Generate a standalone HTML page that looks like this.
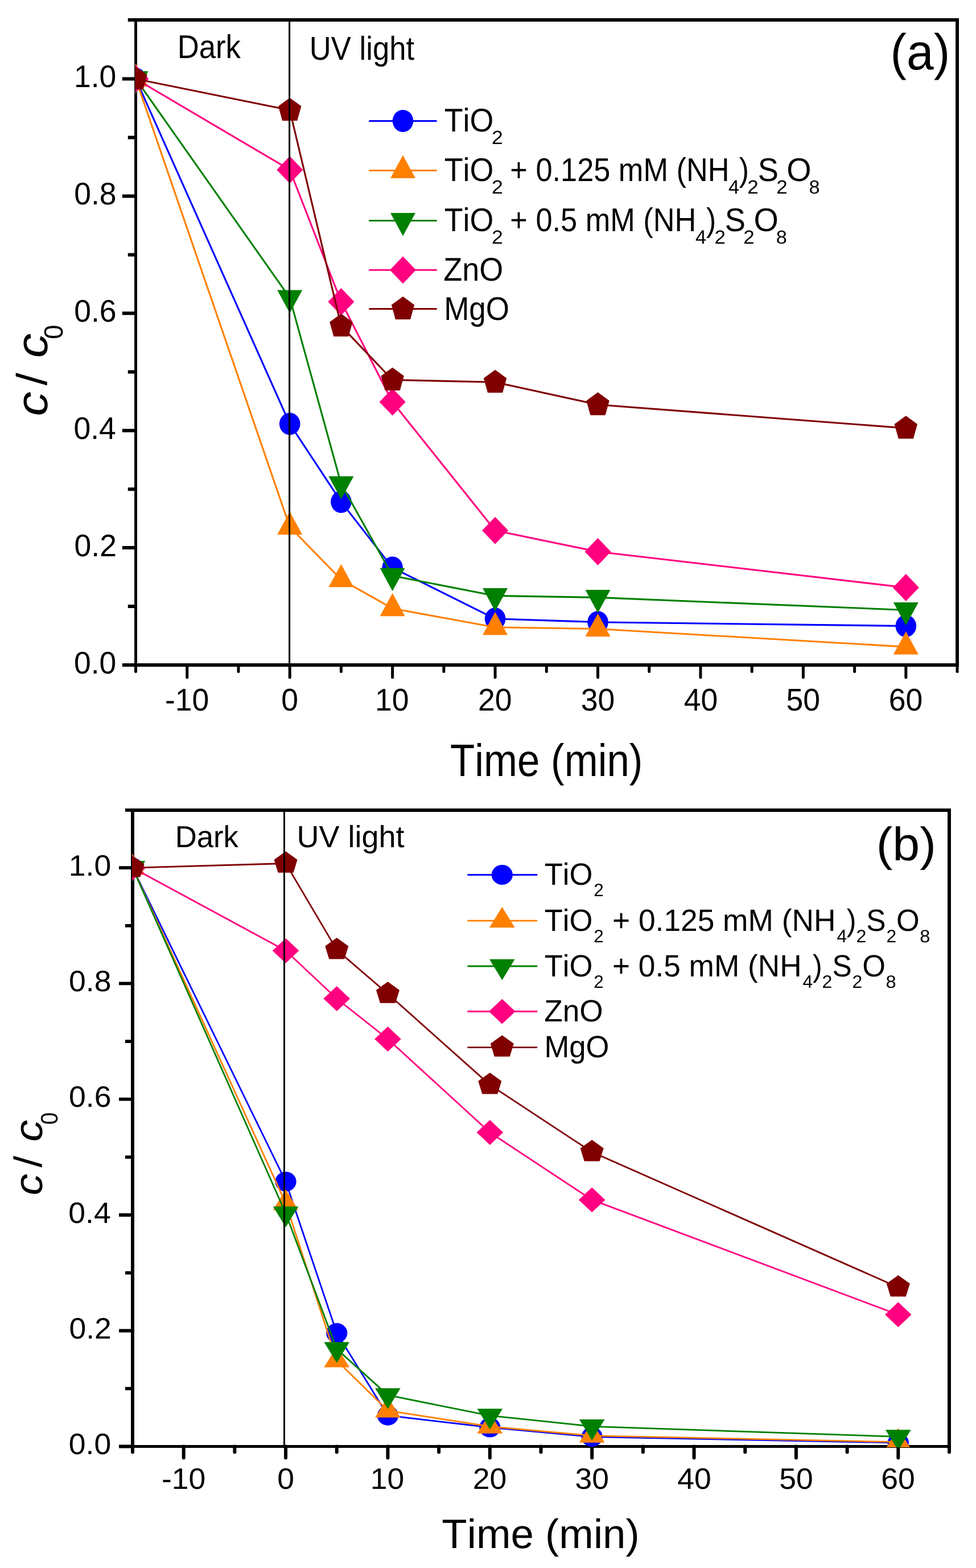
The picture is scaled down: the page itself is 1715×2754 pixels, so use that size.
<!DOCTYPE html>
<html><head><meta charset="utf-8"><title>c/c0 vs time</title><style>html,body{margin:0;padding:0;background:#fff;}svg{display:block;}</style></head><body>
<svg width="1715" height="2754" viewBox="0 0 1715 2754">
<rect width="100%" height="100%" fill="#fff"/>
<g font-family="&quot;Liberation Sans&quot;, Arial, sans-serif" fill="#000" style="font-kerning:none" text-rendering="geometricPrecision">
<g stroke="#000" fill="none">
<line x1="235.575" y1="35.05" x2="1685" y2="35.05" stroke-width="5.95"/>
<line x1="235.55" y1="1168" x2="1685" y2="1168" stroke-width="6.0"/>
<line x1="238.55" y1="32.075" x2="238.55" y2="1171" stroke-width="4.9"/>
<line x1="1682.05" y1="32.075" x2="1682.05" y2="1171" stroke-width="5.9"/>
<path d="M238.55,1168H214.9M238.55,1065.06H224.8M238.55,962.12H214.9M238.55,859.18H224.8M238.55,756.24H214.9M238.55,653.3H224.8M238.55,550.36H214.9M238.55,447.42H224.8M238.55,344.48H214.9M238.55,241.54H224.8M238.55,138.6H214.9M238.55,35.05H224.8" stroke-width="6.0" stroke-linecap="butt"/>
<path d="M238.55,1168V1179.5M328.769,1168V1189.7M418.988,1168V1179.5M509.206,1168V1189.7M599.425,1168V1179.5M689.644,1168V1189.7M779.862,1168V1179.5M870.081,1168V1189.7M960.3,1168V1179.5M1050.519,1168V1189.7M1140.737,1168V1179.5M1230.956,1168V1189.7M1321.175,1168V1179.5M1411.394,1168V1189.7M1501.612,1168V1179.5M1591.831,1168V1189.7M1682.05,1168V1179.5" stroke-width="5.0" stroke-linecap="round"/>
</g>
<clipPath id="ca"><rect x="237.8" y="35.05" width="1444.25" height="1132.95"/></clipPath>
<g clip-path="url(#ca)">
<polyline points="238.55,138.6 509.206,744.5 599.425,881.4 689.644,997.1 870.081,1086.8 1050.519,1092.7 1591.831,1099.5" fill="none" stroke="#0000FF" stroke-width="3.1" stroke-linejoin="round"/>
<ellipse cx="238.55" cy="138.6" rx="18.3" ry="19.5" fill="#0000FF"/>
<ellipse cx="509.206" cy="744.5" rx="18.3" ry="19.5" fill="#0000FF"/>
<ellipse cx="599.425" cy="881.4" rx="18.3" ry="19.5" fill="#0000FF"/>
<ellipse cx="689.644" cy="997.1" rx="18.3" ry="19.5" fill="#0000FF"/>
<ellipse cx="870.081" cy="1086.8" rx="18.3" ry="19.5" fill="#0000FF"/>
<ellipse cx="1050.519" cy="1092.7" rx="18.3" ry="19.5" fill="#0000FF"/>
<ellipse cx="1591.831" cy="1099.5" rx="18.3" ry="19.5" fill="#0000FF"/>
<polyline points="238.55,138.6 509.206,925.5 599.425,1017.8 689.644,1068.7 870.081,1101.8 1050.519,1104.5 1591.831,1136.1" fill="none" stroke="#FF8000" stroke-width="3.1" stroke-linejoin="round"/>
<polygon points="238.55,111.6 260.55,152.1 216.55,152.1" fill="#FF8000"/>
<polygon points="509.206,898.5 531.206,939 487.206,939" fill="#FF8000"/>
<polygon points="599.425,990.8 621.425,1031.3 577.425,1031.3" fill="#FF8000"/>
<polygon points="689.644,1041.7 711.644,1082.2 667.644,1082.2" fill="#FF8000"/>
<polygon points="870.081,1074.8 892.081,1115.3 848.081,1115.3" fill="#FF8000"/>
<polygon points="1050.519,1077.5 1072.519,1118 1028.519,1118" fill="#FF8000"/>
<polygon points="1591.831,1109.1 1613.831,1149.6 1569.831,1149.6" fill="#FF8000"/>
<polyline points="238.55,138.6 509.206,523.1 599.425,850.1 689.644,1011.3 870.081,1046.4 1050.519,1049.4 1591.831,1071.5" fill="none" stroke="#008000" stroke-width="3.1" stroke-linejoin="round"/>
<polygon points="216.55,125.1 260.55,125.1 238.55,165.6" fill="#008000"/>
<polygon points="487.206,509.6 531.206,509.6 509.206,550.1" fill="#008000"/>
<polygon points="577.425,836.6 621.425,836.6 599.425,877.1" fill="#008000"/>
<polygon points="667.644,997.8 711.644,997.8 689.644,1038.3" fill="#008000"/>
<polygon points="848.081,1032.9 892.081,1032.9 870.081,1073.4" fill="#008000"/>
<polygon points="1028.519,1035.9 1072.519,1035.9 1050.519,1076.4" fill="#008000"/>
<polygon points="1569.831,1058 1613.831,1058 1591.831,1098.5" fill="#008000"/>
<polyline points="238.55,138.6 509.206,298.2 599.425,530 689.644,706 870.081,931.8 1050.519,969 1591.831,1032" fill="none" stroke="#FF0080" stroke-width="3.1" stroke-linejoin="round"/>
<polygon points="238.55,114.6 261.55,138.6 238.55,162.6 215.55,138.6" fill="#FF0080"/>
<polygon points="509.206,274.2 532.206,298.2 509.206,322.2 486.206,298.2" fill="#FF0080"/>
<polygon points="599.425,506 622.425,530 599.425,554 576.425,530" fill="#FF0080"/>
<polygon points="689.644,682 712.644,706 689.644,730 666.644,706" fill="#FF0080"/>
<polygon points="870.081,907.8 893.081,931.8 870.081,955.8 847.081,931.8" fill="#FF0080"/>
<polygon points="1050.519,945 1073.519,969 1050.519,993 1027.519,969" fill="#FF0080"/>
<polygon points="1591.831,1008 1614.831,1032 1591.831,1056 1568.831,1032" fill="#FF0080"/>
<polyline points="238.55,138.6 509.206,193.5 599.425,572.6 689.644,667.3 870.081,671.2 1050.519,710.7 1591.831,752" fill="none" stroke="#800000" stroke-width="3.1" stroke-linejoin="round"/>
<polygon points="238.55,116.9 258.75,131.6 251.65,157.1 225.45,157.1 218.35,131.6" fill="#800000"/>
<polygon points="509.206,171.8 529.406,186.5 522.306,212 496.106,212 489.006,186.5" fill="#800000"/>
<polygon points="599.425,550.9 619.625,565.6 612.525,591.1 586.325,591.1 579.225,565.6" fill="#800000"/>
<polygon points="689.644,645.6 709.844,660.3 702.744,685.8 676.544,685.8 669.444,660.3" fill="#800000"/>
<polygon points="870.081,649.5 890.281,664.2 883.181,689.7 856.981,689.7 849.881,664.2" fill="#800000"/>
<polygon points="1050.519,689 1070.719,703.7 1063.619,729.2 1037.419,729.2 1030.319,703.7" fill="#800000"/>
<polygon points="1591.831,730.3 1612.031,745 1604.931,770.5 1578.731,770.5 1571.631,745" fill="#800000"/>
</g>
<line x1="508.6" y1="35.05" x2="508.6" y2="1168" stroke="#000" stroke-width="3"/>
<line x1="649.5" y1="212.4" x2="766.5" y2="212.4" stroke="#0000FF" stroke-width="3.0" stroke-linecap="round"/>
<ellipse cx="708" cy="212.4" rx="18.3" ry="19.5" fill="#0000FF"/>
<line x1="649.5" y1="299.4" x2="766.5" y2="299.4" stroke="#FF8000" stroke-width="3.0" stroke-linecap="round"/>
<polygon points="708,272.4 730,312.9 686,312.9" fill="#FF8000"/>
<line x1="649.5" y1="387.4" x2="766.5" y2="387.4" stroke="#008000" stroke-width="3.0" stroke-linecap="round"/>
<polygon points="686,373.9 730,373.9 708,414.4" fill="#008000"/>
<line x1="649.5" y1="474.3" x2="766.5" y2="474.3" stroke="#FF0080" stroke-width="3.0" stroke-linecap="round"/>
<polygon points="708,450.3 731,474.3 708,498.3 685,474.3" fill="#FF0080"/>
<line x1="649.5" y1="542.4" x2="766.5" y2="542.4" stroke="#800000" stroke-width="3.0" stroke-linecap="round"/>
<polygon points="708,520.7 728.2,535.4 721.1,560.9 694.9,560.9 687.8,535.4" fill="#800000"/>
<g stroke="#000" fill="none">
<line x1="230.05" y1="1422.95" x2="1671" y2="1422.95" stroke-width="5.9"/>
<line x1="230.6" y1="2540.5" x2="1671" y2="2540.5" stroke-width="4.8"/>
<line x1="233" y1="1420" x2="233" y2="2542.9" stroke-width="6.0"/>
<line x1="1668" y1="1420" x2="1668" y2="2542.9" stroke-width="6.0"/>
<path d="M233,2540.5H209M233,2438.87H220M233,2337.24H209M233,2235.61H220M233,2133.98H209M233,2032.35H220M233,1930.72H209M233,1829.09H220M233,1727.46H209M233,1625.83H220M233,1524.2H209M233,1422.95H220" stroke-width="5.8" stroke-linecap="butt"/>
<path d="M233,2540.5V2550.6M322.688,2540.5V2560.6M412.375,2540.5V2550.6M502.062,2540.5V2560.6M591.75,2540.5V2550.6M681.438,2540.5V2560.6M771.125,2540.5V2550.6M860.812,2540.5V2560.6M950.5,2540.5V2550.6M1040.188,2540.5V2560.6M1129.875,2540.5V2550.6M1219.562,2540.5V2560.6M1309.25,2540.5V2550.6M1398.938,2540.5V2560.6M1488.625,2540.5V2550.6M1578.312,2540.5V2560.6M1668,2540.5V2550.6" stroke-width="6.0" stroke-linecap="round"/>
</g>
<clipPath id="cb"><rect x="232.2" y="1422.95" width="1435.8" height="1118.95"/></clipPath>
<g clip-path="url(#cb)">
<polyline points="233,1524.2 502.062,2075.4 591.75,2341.3 681.438,2486.2 860.812,2507.1 1040.188,2523.7 1578.312,2534" fill="none" stroke="#0000FF" stroke-width="2.8" stroke-linejoin="round"/>
<ellipse cx="233" cy="1524.2" rx="18.6" ry="17.5" fill="#0000FF"/>
<ellipse cx="502.062" cy="2075.4" rx="18.6" ry="17.5" fill="#0000FF"/>
<ellipse cx="591.75" cy="2341.3" rx="18.6" ry="17.5" fill="#0000FF"/>
<ellipse cx="681.438" cy="2486.2" rx="18.6" ry="17.5" fill="#0000FF"/>
<ellipse cx="860.812" cy="2507.1" rx="18.6" ry="17.5" fill="#0000FF"/>
<ellipse cx="1040.188" cy="2523.7" rx="18.6" ry="17.5" fill="#0000FF"/>
<ellipse cx="1578.312" cy="2534" rx="18.6" ry="17.5" fill="#0000FF"/>
<polyline points="233,1524.2 502.062,2113.3 591.75,2389.4 681.438,2477.6 860.812,2505.5 1040.188,2521.6 1578.312,2532.7" fill="none" stroke="#FF8000" stroke-width="2.8" stroke-linejoin="round"/>
<polygon points="233,1499.8 255.3,1536.4 210.7,1536.4" fill="#FF8000"/>
<polygon points="502.062,2088.9 524.362,2125.5 479.762,2125.5" fill="#FF8000"/>
<polygon points="591.75,2365 614.05,2401.6 569.45,2401.6" fill="#FF8000"/>
<polygon points="681.438,2453.2 703.737,2489.8 659.138,2489.8" fill="#FF8000"/>
<polygon points="860.812,2481.1 883.112,2517.7 838.513,2517.7" fill="#FF8000"/>
<polygon points="1040.188,2497.2 1062.487,2533.8 1017.888,2533.8" fill="#FF8000"/>
<polygon points="1578.312,2508.3 1600.612,2544.9 1556.013,2544.9" fill="#FF8000"/>
<polyline points="233,1524.2 502.062,2131.2 591.75,2369.4 681.438,2450.4 860.812,2486.4 1040.188,2505.3 1578.312,2523.4" fill="none" stroke="#008000" stroke-width="2.8" stroke-linejoin="round"/>
<polygon points="210.7,1512 255.3,1512 233,1548.6" fill="#008000"/>
<polygon points="479.762,2119 524.362,2119 502.062,2155.6" fill="#008000"/>
<polygon points="569.45,2357.2 614.05,2357.2 591.75,2393.8" fill="#008000"/>
<polygon points="659.138,2438.2 703.737,2438.2 681.438,2474.8" fill="#008000"/>
<polygon points="838.513,2474.2 883.112,2474.2 860.812,2510.8" fill="#008000"/>
<polygon points="1017.888,2493.1 1062.487,2493.1 1040.188,2529.7" fill="#008000"/>
<polygon points="1556.013,2511.2 1600.612,2511.2 1578.312,2547.8" fill="#008000"/>
<polyline points="233,1524.2 502.062,1669.8 591.75,1754 681.438,1825 860.812,1989 1040.188,2107.4 1578.312,2309" fill="none" stroke="#FF0080" stroke-width="2.8" stroke-linejoin="round"/>
<polygon points="233,1502.3 256.3,1524.2 233,1546.1 209.7,1524.2" fill="#FF0080"/>
<polygon points="502.062,1647.9 525.362,1669.8 502.062,1691.7 478.762,1669.8" fill="#FF0080"/>
<polygon points="591.75,1732.1 615.05,1754 591.75,1775.9 568.45,1754" fill="#FF0080"/>
<polygon points="681.438,1803.1 704.737,1825 681.438,1846.9 658.138,1825" fill="#FF0080"/>
<polygon points="860.812,1967.1 884.112,1989 860.812,2010.9 837.513,1989" fill="#FF0080"/>
<polygon points="1040.188,2085.5 1063.487,2107.4 1040.188,2129.3 1016.888,2107.4" fill="#FF0080"/>
<polygon points="1578.312,2287.1 1601.612,2309 1578.312,2330.9 1555.013,2309" fill="#FF0080"/>
<polyline points="233,1524.2 502.062,1516.5 591.75,1668.4 681.438,1745.5 860.812,1905.4 1040.188,2023.4 1578.312,2261" fill="none" stroke="#800000" stroke-width="2.8" stroke-linejoin="round"/>
<polygon points="233,1502.9 253.5,1517.6 246.5,1540.4 219.5,1540.4 212.5,1517.6" fill="#800000"/>
<polygon points="502.062,1495.2 522.562,1509.9 515.562,1532.7 488.562,1532.7 481.562,1509.9" fill="#800000"/>
<polygon points="591.75,1647.1 612.25,1661.8 605.25,1684.6 578.25,1684.6 571.25,1661.8" fill="#800000"/>
<polygon points="681.438,1724.2 701.938,1738.9 694.938,1761.7 667.938,1761.7 660.938,1738.9" fill="#800000"/>
<polygon points="860.812,1884.1 881.312,1898.8 874.312,1921.6 847.312,1921.6 840.312,1898.8" fill="#800000"/>
<polygon points="1040.188,2002.1 1060.688,2016.8 1053.688,2039.6 1026.688,2039.6 1019.688,2016.8" fill="#800000"/>
<polygon points="1578.312,2239.7 1598.812,2254.4 1591.812,2277.2 1564.812,2277.2 1557.812,2254.4" fill="#800000"/>
</g>
<line x1="499.5" y1="1422.95" x2="499.5" y2="2540.5" stroke="#000" stroke-width="3"/>
<line x1="822.5" y1="1536.5" x2="943" y2="1536.5" stroke="#0000FF" stroke-width="2.9" stroke-linecap="round"/>
<ellipse cx="882.3" cy="1536.5" rx="18.6" ry="17.5" fill="#0000FF"/>
<line x1="822.5" y1="1617.1" x2="943" y2="1617.1" stroke="#FF8000" stroke-width="2.9" stroke-linecap="round"/>
<polygon points="882.3,1592.7 904.6,1629.3 860,1629.3" fill="#FF8000"/>
<line x1="822.5" y1="1697.0" x2="943" y2="1697.0" stroke="#008000" stroke-width="2.9" stroke-linecap="round"/>
<polygon points="860,1684.8 904.6,1684.8 882.3,1721.4" fill="#008000"/>
<line x1="822.5" y1="1776.5" x2="943" y2="1776.5" stroke="#FF0080" stroke-width="2.9" stroke-linecap="round"/>
<polygon points="882.3,1754.6 905.6,1776.5 882.3,1798.4 859,1776.5" fill="#FF0080"/>
<line x1="822.5" y1="1839.6" x2="943" y2="1839.6" stroke="#800000" stroke-width="2.9" stroke-linecap="round"/>
<polygon points="882.3,1818.3 902.8,1833 895.8,1855.8 868.8,1855.8 861.8,1833" fill="#800000"/>
<text transform="matrix(0.535,0,0,0.549,129.918,1182.7)" font-size="100">0.0</text>
<text transform="matrix(0.535,0,0,0.549,130.518,976.82)" font-size="100">0.2</text>
<text transform="matrix(0.535,0,0,0.549,129.395,770.94)" font-size="100">0.4</text>
<text transform="matrix(0.535,0,0,0.549,130.179,565.06)" font-size="100">0.6</text>
<text transform="matrix(0.535,0,0,0.549,130.153,359.18)" font-size="100">0.8</text>
<text transform="matrix(0.535,0,0,0.549,129.918,153.3)" font-size="100">1.0</text>
<text transform="matrix(0.535,0,0,0.552,289.963,1248.4)" font-size="100">-10</text>
<text transform="matrix(0.535,0,0,0.552,494.329,1248.4)" font-size="100">0</text>
<text transform="matrix(0.535,0,0,0.552,658.897,1248.4)" font-size="100">10</text>
<text transform="matrix(0.535,0,0,0.552,840.027,1248.4)" font-size="100">20</text>
<text transform="matrix(0.535,0,0,0.552,1020.791,1248.4)" font-size="100">30</text>
<text transform="matrix(0.535,0,0,0.552,1201.633,1248.4)" font-size="100">40</text>
<text transform="matrix(0.535,0,0,0.552,1381.613,1248.4)" font-size="100">50</text>
<text transform="matrix(0.535,0,0,0.552,1561.764,1248.4)" font-size="100">60</text>
<text transform="matrix(0.535,0,0,0.518,120.818,2554.2)" font-size="100">0.0</text>
<text transform="matrix(0.535,0,0,0.518,121.418,2350.94)" font-size="100">0.2</text>
<text transform="matrix(0.535,0,0,0.518,120.295,2147.68)" font-size="100">0.4</text>
<text transform="matrix(0.535,0,0,0.518,121.079,1944.42)" font-size="100">0.6</text>
<text transform="matrix(0.535,0,0,0.518,121.053,1741.16)" font-size="100">0.8</text>
<text transform="matrix(0.535,0,0,0.518,120.818,1537.9)" font-size="100">1.0</text>
<text transform="matrix(0.535,0,0,0.52,283.882,2614.5)" font-size="100">-10</text>
<text transform="matrix(0.535,0,0,0.52,487.185,2614.5)" font-size="100">0</text>
<text transform="matrix(0.535,0,0,0.52,650.691,2614.5)" font-size="100">10</text>
<text transform="matrix(0.535,0,0,0.52,830.758,2614.5)" font-size="100">20</text>
<text transform="matrix(0.535,0,0,0.52,1010.459,2614.5)" font-size="100">30</text>
<text transform="matrix(0.535,0,0,0.52,1190.239,2614.5)" font-size="100">40</text>
<text transform="matrix(0.535,0,0,0.52,1369.157,2614.5)" font-size="100">50</text>
<text transform="matrix(0.535,0,0,0.52,1548.245,2614.5)" font-size="100">60</text>
<text transform="matrix(0.527,0,0,0.578,311.678,101.8)" font-size="100">Dark</text>
<text transform="matrix(0.526,0,0,0.583,543.838,105)" font-size="100">UV light</text>
<text transform="matrix(0.857,0,0,0.89,1564.586,122.378)" font-size="100">(a)</text>
<text transform="matrix(0.708,0,0,0.801,791.109,1363.2)" font-size="100">Time (min)</text>
<text transform="matrix(0,-0.857,0.772,0,83.346,730.705)" font-size="100" font-style="italic">c</text>
<text transform="matrix(0,-0.799,0.75,0,82.367,677.1)" font-size="100">/</text>
<text transform="matrix(0,-0.857,0.772,0,83.346,628.605)" font-size="100" font-style="italic">c</text>
<text transform="matrix(0,-0.456,0.463,0,110.448,595.681)" font-size="100">0</text>
<text transform="matrix(0.527,0,0,0.536,307.674,1487.9)" font-size="100">Dark</text>
<text transform="matrix(0.54,0,0,0.539,521.434,1487.9)" font-size="100">UV light</text>
<text transform="matrix(0.861,0,0,0.825,1539.658,1510.811)" font-size="100">(b)</text>
<text transform="matrix(0.727,0,0,0.722,776.368,2718.8)" font-size="100">Time (min)</text>
<text transform="matrix(0,-0.765,0.695,0,74.421,2099.404)" font-size="100" font-style="italic">c</text>
<text transform="matrix(0,-0.734,0.685,0,73.431,2050.4)" font-size="100">/</text>
<text transform="matrix(0,-0.767,0.695,0,74.421,2005.311)" font-size="100" font-style="italic">c</text>
<text transform="matrix(0,-0.389,0.417,0,101.393,1975.22)" font-size="100">0</text>
<text transform="matrix(0.538,0,0,0.578,780.691,230.8)" font-size="100">TiO</text>
<text transform="matrix(0.356,0,0,0.337,864.012,252.8)" font-size="100">2</text>
<text transform="matrix(0.538,0,0,0.578,780.691,318)" font-size="100">TiO</text>
<text transform="matrix(0.356,0,0,0.337,864.012,340)" font-size="100">2</text>
<text transform="matrix(0.523,0,0,0.578,896.348,318)" font-size="100">+ 0.125 mM (NH</text>
<text transform="matrix(0.343,0,0,0.342,1279.912,340)" font-size="100">4</text>
<text transform="matrix(0.52,0,0,0.578,1298.695,318)" font-size="100">)</text>
<text transform="matrix(0.351,0,0,0.337,1313.234,340)" font-size="100">2</text>
<text transform="matrix(0.542,0,0,0.578,1331.639,318)" font-size="100">S</text>
<text transform="matrix(0.351,0,0,0.337,1364.134,340)" font-size="100">2</text>
<text transform="matrix(0.558,0,0,0.578,1382.356,318)" font-size="100">O</text>
<text transform="matrix(0.343,0,0,0.332,1421.509,340)" font-size="100">8</text>
<text transform="matrix(0.538,0,0,0.578,780.691,406.4)" font-size="100">TiO</text>
<text transform="matrix(0.356,0,0,0.337,864.012,428.4)" font-size="100">2</text>
<text transform="matrix(0.523,0,0,0.578,896.345,406.4)" font-size="100">+ 0.5 mM (NH</text>
<text transform="matrix(0.343,0,0,0.342,1222.112,428.4)" font-size="100">4</text>
<text transform="matrix(0.52,0,0,0.578,1240.895,406.4)" font-size="100">)</text>
<text transform="matrix(0.351,0,0,0.337,1255.434,428.4)" font-size="100">2</text>
<text transform="matrix(0.542,0,0,0.578,1273.839,406.4)" font-size="100">S</text>
<text transform="matrix(0.351,0,0,0.337,1306.334,428.4)" font-size="100">2</text>
<text transform="matrix(0.558,0,0,0.578,1324.556,406.4)" font-size="100">O</text>
<text transform="matrix(0.343,0,0,0.332,1363.709,428.4)" font-size="100">8</text>
<text transform="matrix(0.54,0,0,0.578,779.287,492.9)" font-size="100">ZnO</text>
<text transform="matrix(0.53,0,0,0.578,780.155,561.9)" font-size="100">MgO</text>
<text transform="matrix(0.526,0,0,0.541,956.719,1553.8)" font-size="100">TiO</text>
<text transform="matrix(0.314,0,0,0.315,1043.221,1573.8)" font-size="100">2</text>
<text transform="matrix(0.526,0,0,0.541,956.719,1634.7)" font-size="100">TiO</text>
<text transform="matrix(0.314,0,0,0.315,1043.221,1654.7)" font-size="100">2</text>
<text transform="matrix(0.533,0,0,0.541,1075.997,1634.7)" font-size="100">+ 0.125 mM (NH</text>
<text transform="matrix(0.316,0,0,0.32,1470.376,1654.7)" font-size="100">4</text>
<text transform="matrix(0.502,0,0,0.541,1487.706,1634.7)" font-size="100">)</text>
<text transform="matrix(0.32,0,0,0.315,1504.388,1654.7)" font-size="100">2</text>
<text transform="matrix(0.514,0,0,0.541,1522.265,1634.7)" font-size="100">S</text>
<text transform="matrix(0.318,0,0,0.315,1557.399,1654.7)" font-size="100">2</text>
<text transform="matrix(0.523,0,0,0.541,1575.023,1634.7)" font-size="100">O</text>
<text transform="matrix(0.326,0,0,0.311,1616.283,1654.7)" font-size="100">8</text>
<text transform="matrix(0.526,0,0,0.541,956.719,1714.8)" font-size="100">TiO</text>
<text transform="matrix(0.314,0,0,0.315,1043.221,1734.8)" font-size="100">2</text>
<text transform="matrix(0.532,0,0,0.541,1076.001,1714.8)" font-size="100">+ 0.5 mM (NH</text>
<text transform="matrix(0.316,0,0,0.32,1410.576,1734.8)" font-size="100">4</text>
<text transform="matrix(0.502,0,0,0.541,1427.906,1714.8)" font-size="100">)</text>
<text transform="matrix(0.32,0,0,0.315,1444.588,1734.8)" font-size="100">2</text>
<text transform="matrix(0.514,0,0,0.541,1462.465,1714.8)" font-size="100">S</text>
<text transform="matrix(0.318,0,0,0.315,1497.599,1734.8)" font-size="100">2</text>
<text transform="matrix(0.523,0,0,0.541,1515.223,1714.8)" font-size="100">O</text>
<text transform="matrix(0.326,0,0,0.311,1556.483,1734.8)" font-size="100">8</text>
<text transform="matrix(0.532,0,0,0.541,956.212,1793.9)" font-size="100">ZnO</text>
<text transform="matrix(0.526,0,0,0.541,956.387,1857.1)" font-size="100">MgO</text>
</g></svg>
</body></html>
